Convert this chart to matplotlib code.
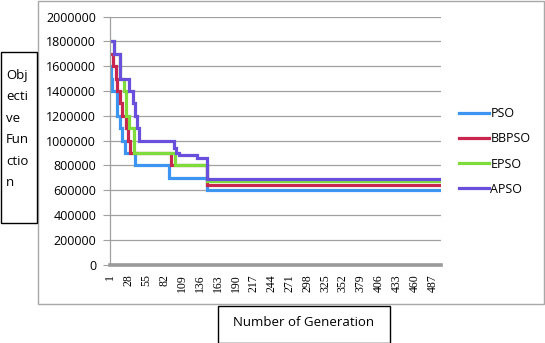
import matplotlib
matplotlib.use("Agg")
import matplotlib.pyplot as plt
from matplotlib.patches import Rectangle

plt.rcParams['font.family'] = ['Open Sans', 'DejaVu Sans']

# step data: generation where a new best value starts, and that value
pso_gen = [1, 2, 4, 11, 15, 19, 23, 38, 90, 147]
pso_val = [1600000, 1500000, 1400000, 1200000, 1100000, 1000000, 900000, 800000, 700000, 600000]

bbpso_gen = [1, 5, 9, 11, 16, 19, 24, 28, 31, 92, 147]
bbpso_val = [1700000, 1600000, 1500000, 1400000, 1300000, 1200000, 1100000, 1000000, 900000, 800000, 640000]

epso_gen = [1, 7, 15, 22, 25, 29, 36, 99, 147]
epso_val = [1800000, 1700000, 1500000, 1400000, 1200000, 1100000, 900000, 800000, 670000]

apso_gen = [1, 7, 15, 29, 35, 38, 41, 44, 97, 100, 104, 132, 147]
apso_val = [1800000, 1700000, 1500000, 1400000, 1300000, 1200000, 1100000, 1000000,
            940000, 900000, 880000, 860000, 690000]

last_gen = 500
tick_gens = list(range(1, 501, 27))
y_ticks = list(range(0, 2000001, 200000))

series = [
    ("PSO", pso_gen, pso_val, "#3D95F2"),
    ("BBPSO", bbpso_gen, bbpso_val, "#C8264E"),
    ("EPSO", epso_gen, epso_val, "#7EDD3A"),
    ("APSO", apso_gen, apso_val, "#6A4FDC"),
]

W, H = 545, 343
fig = plt.figure(figsize=(W / 100, H / 100), dpi=100)

# outer chart border
fig.patches.append(Rectangle((37.5 / W, 1 - 304 / H), 506 / W, 303 / H,
                             transform=fig.transFigure, fill=False,
                             edgecolor="#A8A8A8", lw=1.0))

ax = fig.add_axes([110 / W, 1 - 264.5 / H, 331.3 / W, 248 / H])

for name, g, v, c in series:
    ax.step(g + [last_gen], v + [v[-1]], where="post", color=c, lw=2.3,
            label=name, solid_joinstyle="miter")

ax.set_xlim(0.5, 500.5)
ax.set_ylim(0, 2000000)
ax.set_yticks(y_ticks)
ax.set_yticklabels([str(t) for t in y_ticks], fontsize=9)
ax.set_xticks(tick_gens)
ax.set_xticklabels([str(t) for t in tick_gens], rotation=90,
                   fontsize=8.5, family="Liberation Serif")
ax.tick_params(axis="x", length=0, pad=7)
ax.tick_params(axis="y", length=5, color="#A0A0A0", width=0.8, pad=5)
ax.yaxis.grid(True, color="#A0A0A0", lw=0.9)
ax.set_axisbelow(True)
for s in ["top", "right"]:
    ax.spines[s].set_visible(False)
ax.spines["left"].set_color("#A0A0A0")
ax.spines["left"].set_linewidth(0.9)
ax.spines["bottom"].set_color("#9A9A9A")
ax.spines["bottom"].set_linewidth(2.6)

ax.legend(loc="upper left", bbox_to_anchor=(459 / W, 1 - 107 / H),
          bbox_transform=fig.transFigure, frameon=False, fontsize=9,
          handlelength=2.4, handletextpad=0.1, labelspacing=0.98,
          borderpad=0, borderaxespad=0)

# y axis title box
fig.patches.append(Rectangle((0.5 / W, 1 - 223 / H), 36.5 / W, 171 / H,
                             transform=fig.transFigure, fill=False,
                             edgecolor="black", lw=1.0))
for i, part in enumerate(["Obj", "ecti", "ve", "Fun", "ctio", "n"]):
    fig.text(6 / W, 1 - (75 + i * 21.6) / H, part, fontsize=9.5,
             ha="left", va="center")

# x axis title box
fig.patches.append(Rectangle((218 / W, 0.5 / H), 172 / W, 37 / H,
                             transform=fig.transFigure, fill=False,
                             edgecolor="black", lw=1.0))
fig.text(304 / W, 1 - 322 / H, "Number of Generation", fontsize=9.5,
         ha="center", va="center")

fig.savefig("out.png", dpi=100)
